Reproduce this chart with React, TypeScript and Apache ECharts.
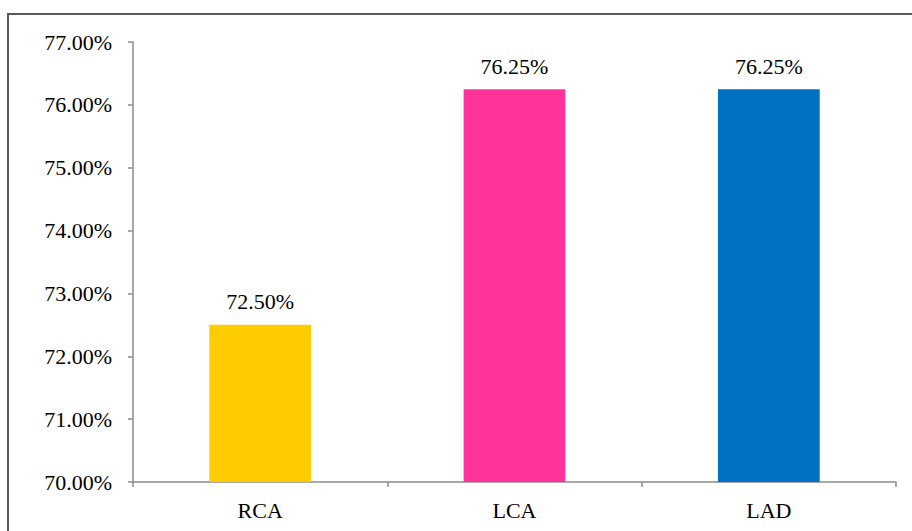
import React, { useEffect, useRef } from "react";
import * as echarts from "echarts";

const categories = ["RCA", "LCA", "LAD"];
const values = [72.5, 76.25, 76.25];
const barColors = ["#FFCC00", "#FF3399", "#0070C0"];
const yMin = 70;
const yMax = 77;
const yInterval = 1;

export default function App() {
  const ref = useRef<HTMLDivElement>(null);
  useEffect(() => {
    if (!ref.current) return;
    const chart = echarts.init(ref.current, null, { renderer: "svg" });
    const font = "'Liberation Serif', 'Times New Roman', serif";
    chart.setOption({
      animation: false,
      backgroundColor: "#ffffff",
      textStyle: { fontFamily: font },
      graphic: [
        {
          type: "rect",
          shape: { x: 8, y: 14, width: 920, height: 540 },
          style: { fill: "none", stroke: "#595959", lineWidth: 2 },
          silent: true,
        },
      ],
      grid: { left: 133, right: 16, top: 42, bottom: 49 },
      xAxis: {
        type: "category",
        data: categories,
        axisLine: { lineStyle: { color: "#8C8C8C", width: 1.5 } },
        axisTick: { show: true, length: 5, lineStyle: { color: "#8C8C8C", width: 1.5 } },
        axisLabel: { color: "#000", fontSize: 22, fontFamily: font, margin: 17 },
      },
      yAxis: {
        type: "value",
        min: yMin,
        max: yMax,
        interval: yInterval,
        axisLine: { show: true, lineStyle: { color: "#8C8C8C", width: 1.5 } },
        axisTick: { show: true, length: 5, lineStyle: { color: "#8C8C8C", width: 1.5 } },
        splitLine: { show: false },
        axisLabel: {
          color: "#000",
          fontSize: 22,
          fontFamily: font,
          margin: 21,
          formatter: (v: number) => v.toFixed(2) + "%",
        },
      },
      series: [
        {
          type: "bar",
          barWidth: "40%",
          data: values.map((v, i) => ({ value: v, itemStyle: { color: barColors[i] } })),
          label: {
            show: true,
            position: "top",
            distance: 12,
            color: "#000",
            fontSize: 22,
            fontFamily: font,
            formatter: (p: any) => Number(p.value).toFixed(2) + "%",
          },
        },
      ],
    });
    return () => chart.dispose();
  }, []);
  return (
    <div
      ref={ref}
      style={{ position: "absolute", left: 0, top: 0, width: 912, height: 531 }}
    />
  );
}
